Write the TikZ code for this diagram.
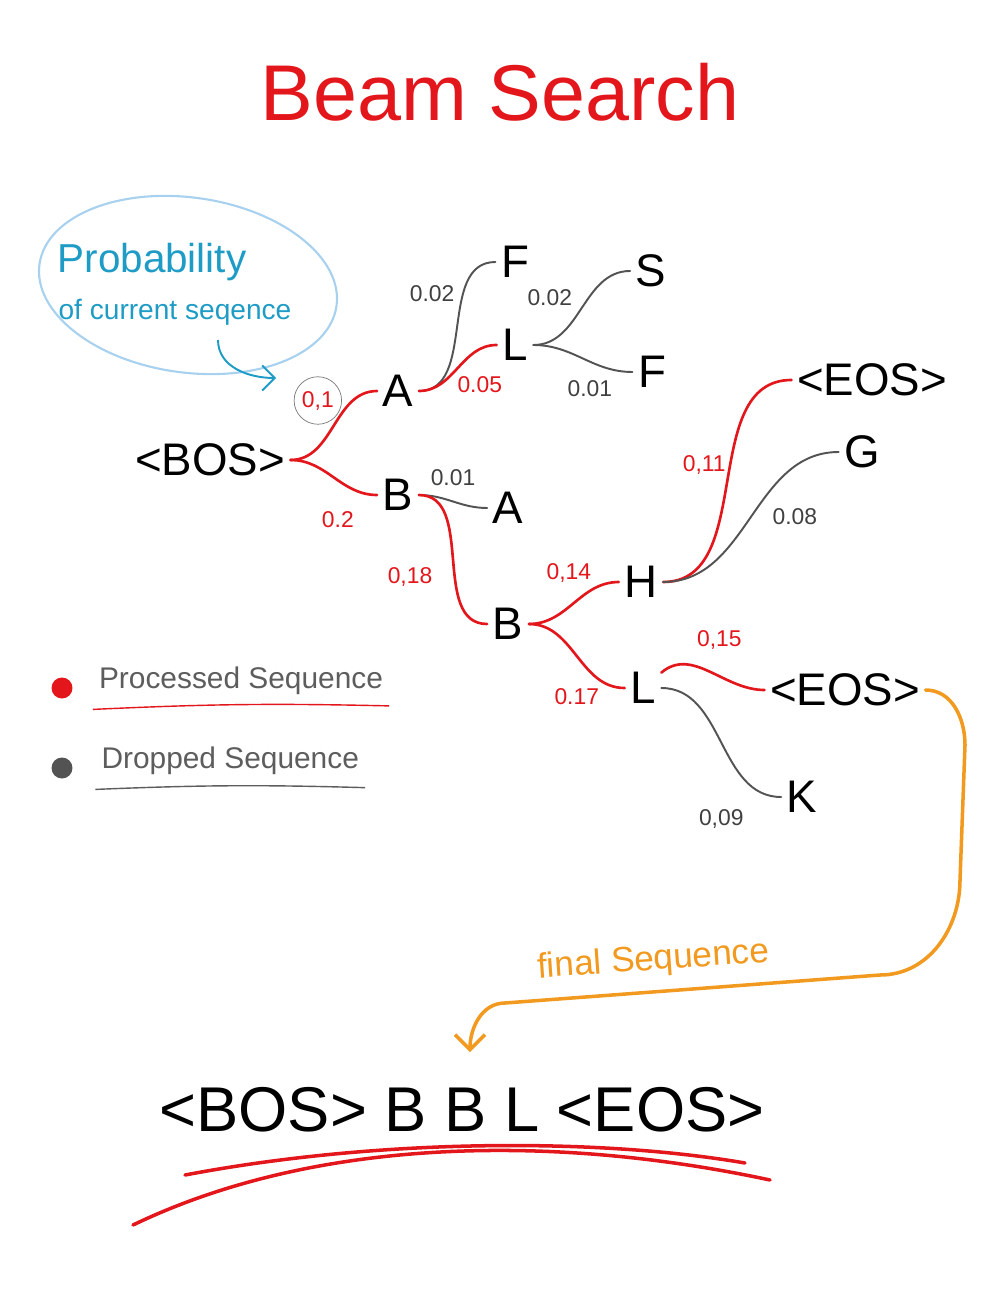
\documentclass[tikz,border=0pt]{standalone}
\usepackage{fontspec}
\setmainfont{Liberation Sans}
\usetikzlibrary{arrows.meta,positioning}
\definecolor{inkred}{HTML}{E3161B}
\definecolor{inkgray}{HTML}{404040}
\definecolor{inkcyan}{HTML}{1E9CC6}
\definecolor{bubble}{HTML}{A8D1EF}
\definecolor{inkorange}{HTML}{F29A1F}
\tikzstyle{token}=[inner sep=3pt,font=\fontsize{26}{28}\selectfont]
\tikzstyle{kept}=[draw=inkred,line width=1.5pt]
\tikzstyle{dropped}=[draw=inkgray!90,line width=1.1pt]
\tikzstyle{keptp}=[inner sep=1pt,text=inkred,font=\fontsize{13}{15}\selectfont]
\tikzstyle{droppedp}=[inner sep=1pt,text=inkgray,font=\fontsize{13}{15}\selectfont]
\tikzstyle{legend}=[text=inkgray!85,font=\fontsize{17}{19}\selectfont]
\tikzstyle{every edge}=[draw,out=0,in=180,line cap=round]

\begin{document}
\begin{tikzpicture}[x=0.02cm,y=-0.02cm]
  \fill[white] (0,0) rectangle (1000,1293);
  \node[text=inkred,font=\fontsize{45}{50}\selectfont] (title) at (500,92) {Beam Search};

  % callout
  \draw[bubble,line width=1.2pt] (188,285) ellipse [x radius=3cm,y radius=1.75cm,rotate=-8];
  \node[text=inkcyan,font=\fontsize{23}{26}\selectfont] (prob) at (152,262) {Probability};
  \node[text=inkcyan,font=\fontsize{16}{18}\selectfont] (probsub) at (175,312) {of current seqence};
  \coordinate (tail) at (218,340);
  \coordinate (tip) at (276,378);

  % tree
  \node[token] (bos)  at (210,460) {<BOS>};
  \node[token] (a1)   at (398,391) {A};
  \node[token] (b1)   at (398,495) {B};
  \node[token] (f1)   at (515,262) {F};
  \node[token] (l1)   at (515,345) {L};
  \node[token] (s)    at (651,271) {S};
  \node[token] (f2)   at (652,372) {F};
  \node[token] (a2)   at (508,508) {A};
  \node[token] (b2)   at (508,624) {B};
  \node[token] (h)    at (641,582) {H};
  \node[token] (l2)   at (643,688) {L};
  \node[token] (eos1) at (872,380) {<EOS>};
  \node[token] (g)    at (862,452) {G};
  \node[token] (eos2) at (845,690) {<EOS>};
  \node[token] (k)    at (802,797) {K};

  \path (bos) edge[kept] node[keptp,circle,draw=inkgray!70,thin,minimum size=0.95cm,xshift=-0.32cm,yshift=0.5cm] (p01) {0,1} (a1)
              edge[kept] node[keptp,xshift=0.08cm,yshift=-0.84cm] {0.2} (b1)
        (a1) edge[dropped] node[droppedp,xshift=-0.5cm,yshift=0.66cm] {0.02} (f1)
             edge[kept] node[keptp,xshift=0.44cm,yshift=-0.34cm] {0.05} (l1)
        (l1) edge[dropped] node[droppedp,xshift=-0.64cm,yshift=0.2cm] {0.02} (s)
             edge[dropped] node[droppedp,xshift=0.14cm,yshift=-0.6cm] {0.01} (f2)
        (b1) edge[dropped] node[droppedp,yshift=0.48cm] {0.01} (a2)
             edge[kept] node[keptp,xshift=-0.86cm,yshift=-0.34cm] {0,18} (b2)
        (b2) edge[kept] node[keptp,xshift=-0.1cm,yshift=0.6cm] {0,14} (h)
             edge[kept] node[keptp,yshift=-0.82cm] {0.17} (l2)
        (h) edge[kept] node[keptp,xshift=-0.46cm,yshift=0.32cm] {0,11} (eos1)
            edge[dropped] node[droppedp,xshift=0.88cm] {0.08} (g)
        (l2) edge[kept,out=40] node[keptp,xshift=0.2cm,yshift=0.62cm] {0,15} (eos2)
             edge[dropped] node[droppedp,yshift=-1.52cm] {0,09} (k);

  \draw[inkcyan,line width=1.1pt,-{Straight Barb[length=2.5mm]}] (tail) to[out=-90,in=180] (tip);

  % legend
  \node[circle,fill=inkred,minimum size=0.42cm,inner sep=0] (dotkept) at (62,688) {};
  \node[circle,fill=inkgray!90,minimum size=0.42cm,inner sep=0] (dotdrop) at (62,768) {};
  \node[legend,right=0.4cm of dotkept,yshift=0.15cm] (legkept) {Processed Sequence};
  \node[legend,right=0.45cm of dotdrop,yshift=0.15cm] (legdrop) {Dropped Sequence};
  \draw[inkred,line width=0.8pt] ([yshift=-5pt]legkept.south west) to[bend left=2] ([yshift=-3pt]legkept.south east);
  \draw[inkgray!85,line width=0.8pt] ([yshift=-5pt]legdrop.south west) to[bend left=2] ([yshift=-4pt]legdrop.south east);

  % final sequence
  \node[font=\fontsize{36}{40}\selectfont] (final) at (462,1110) {<BOS> B B L <EOS>};
  \coordinate (drop) at (470,1052);
  \draw[inkorange,line width=2pt,line cap=round,-{Straight Barb[length=3mm]}] (eos2.east) to[out=0,in=90] (965,745) -- (960,880) to[out=-90,in=0] (880,975)
     -- node[pos=0.6,above=4pt,rotate=4,text=inkorange,font=\fontsize{20}{22}\selectfont] {final Sequence} (505,1003) to[out=180,in=90] (drop);
  \draw[inkred,line width=2pt,line cap=round] (185,1175) .. controls (380,1138) and (600,1138) .. (745,1163);
  \draw[inkred,line width=2pt,line cap=round] (133,1225) .. controls (320,1135) and (560,1135) .. (770,1180);
\end{tikzpicture}
\end{document}
